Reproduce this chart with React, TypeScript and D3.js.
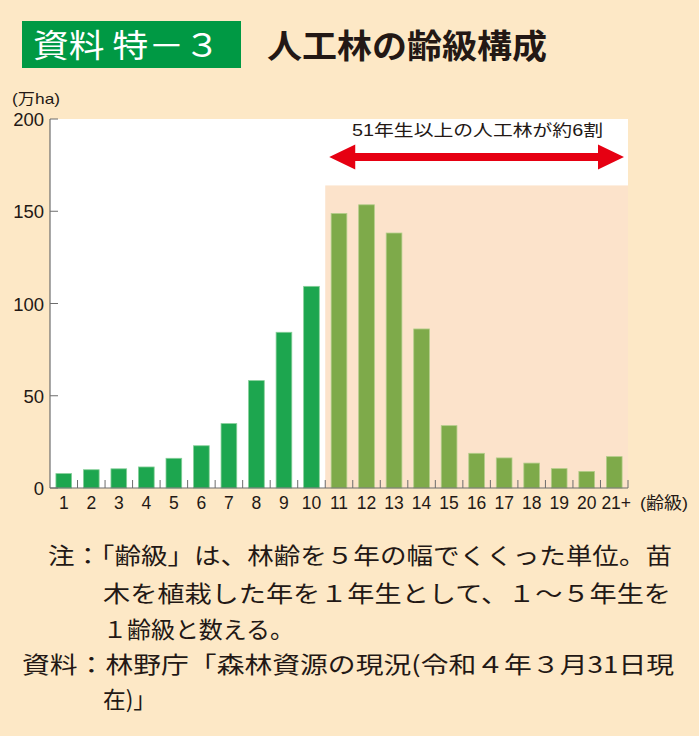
import * as d3 from "d3";

const categories = ["1", "2", "3", "4", "5", "6", "7", "8", "9", "10", "11", "12", "13", "14", "15", "16", "17", "18", "19", "20", "21+"];
const values = [7.8, 9.9, 10.4, 11.4, 16.1, 22.9, 34.9, 58.2, 84.4, 109.3, 148.8, 153.5, 138.2, 86.2, 33.8, 18.8, 16.3, 13.5, 10.5, 9.0, 17.0];
const yTicks = [0, 50, 100, 150, 200];

const noteLines = [
  { text: "注：「齢級」は、林齢を５年の幅でくくった単位。苗", x: 48, y: 564, len: 624 },
  { text: "木を植栽した年を１年生として、１～５年生を", x: 103, y: 602, len: 568 },
  { text: "１齢級と数える。", x: 103, y: 638, len: 191 },
  { text: "資料：林野庁「森林資源の現況(令和４年３月31日現", x: 22, y: 673, len: 652 },
  { text: "在)」", x: 103, y: 708, len: 53 },
];

const W = 699;
const H = 736;
const bg = "#fde8c6";
const shade = "#fce3cb";
const green = "#1da64f";
const olive = "#7eaa4a";
const sans = "'Liberation Sans', Arial, 'Noto Sans CJK JP', sans-serif";
const cjk = "'Noto Sans CJK JP', sans-serif";

export default function App() {
  const x = d3.scaleBand<string>().domain(categories).range([50, 628]).paddingInner(0.43).paddingOuter(0.215);
  const y = d3.scaleLinear().domain([0, 200]).range([488, 119]);
  const step = x.step();
  const edge = (c: string) => (x(c) as number) - (step - x.bandwidth()) / 2;

  const shadeX0 = edge("11");
  const shadeX1 = 628;
  const shadeTop = y(164);
  const arrowY = 157;
  const ax0 = shadeX0 + 4;
  const ax1 = shadeX1 - 4;
  const head = 26;
  const halfHead = 12.5;
  const halfShaft = 4;

  const arrow = [
    [ax0, arrowY],
    [ax0 + head, arrowY - halfHead],
    [ax0 + head, arrowY - halfShaft],
    [ax1 - head, arrowY - halfShaft],
    [ax1 - head, arrowY - halfHead],
    [ax1, arrowY],
    [ax1 - head, arrowY + halfHead],
    [ax1 - head, arrowY + halfShaft],
    [ax0 + head, arrowY + halfShaft],
    [ax0 + head, arrowY + halfHead],
  ];
  const arrowPath = d3.line()(arrow as [number, number][]) + "Z";

  return (
    <div style={{ position: "absolute", left: 0, top: 0 }}>
      <svg width={W} height={H} style={{ display: "block" }}>
        <rect x={0} y={0} width={W} height={H} fill={bg} />

        {/* header */}
        <rect x={22} y={21} width={219} height={47} fill="#009944" />
        <text x={33} y={57} fontFamily={cjk} fontSize={32} fill="#fff" textLength={187} lengthAdjust="spacingAndGlyphs">
          資料 特－３
        </text>
        <text x={267} y={58} fontFamily={cjk} fontSize={33} fontWeight={700} fill="#231815" textLength={280} lengthAdjust="spacingAndGlyphs">
          人工林の齢級構成
        </text>

        {/* plot area */}
        <rect x={50} y={y(200)} width={shadeX1 - 50} height={y(0) - y(200)} fill="#fff" />
        <rect x={shadeX0} y={shadeTop} width={shadeX1 - shadeX0} height={y(0) - shadeTop} fill={shade} />

        {values.map((v, i) => (
          <rect
            key={categories[i]}
            x={x(categories[i])}
            y={y(v)}
            width={x.bandwidth()}
            height={y(0) - y(v)}
            fill={i < 10 ? green : olive}
            stroke={i < 10 ? "#86cf98" : "#b3cd8a"}
            strokeWidth={0.8}
          />
        ))}

        {/* y axis */}
        <line x1={50} x2={50} y1={y(200)} y2={y(0)} stroke="#6d6d6d" strokeWidth={1.2} />
        {yTicks.map((t) => (
          <g key={t}>
            <line x1={50} x2={58} y1={y(t)} y2={y(t)} stroke="#6d6d6d" strokeWidth={1} />
            <text x={44} y={y(t) + 7} textAnchor="end" fontFamily={sans} fontSize={18.5} fill="#231815">
              {t}
            </text>
          </g>
        ))}
        <text x={12} y={104} fontFamily={sans} fontSize={15} fill="#231815" textLength={48} lengthAdjust="spacingAndGlyphs">
          (万ha)
        </text>

        {/* x axis */}
        <line x1={50} x2={shadeX1} y1={y(0)} y2={y(0)} stroke="#6d6d6d" strokeWidth={1.2} />
        {categories.map((c, i) => (
          <g key={c}>
            <line x1={edge(c) + step} x2={edge(c) + step} y1={y(0)} y2={y(0) - 8} stroke="#6d6d6d" strokeWidth={1} />
            <text
              x={(x(c) as number) + x.bandwidth() / 2 + (i === 20 ? 2 : 0)}
              y={509}
              textAnchor="middle"
              fontFamily={sans}
              fontSize={17.5}
              fill="#231815"
            >
              {c}
            </text>
          </g>
        ))}
        <text x={640} y={509} fontFamily={sans} fontSize={16.5} fill="#231815" textLength={48} lengthAdjust="spacingAndGlyphs">
          (齢級)
        </text>

        {/* annotation */}
        <text x={352} y={136} fontFamily={sans} fontSize={16} fill="#231815" textLength={251} lengthAdjust="spacingAndGlyphs">
          51年生以上の人工林が約6割
        </text>
        <path d={arrowPath} fill="#e60012" />

        {/* notes */}
        {noteLines.map((l) => (
          <text key={l.text} x={l.x} y={l.y} fontFamily={cjk} fontSize={23} fill="#231815" textLength={l.len} lengthAdjust="spacingAndGlyphs">
            {l.text}
          </text>
        ))}
      </svg>
    </div>
  );
}
